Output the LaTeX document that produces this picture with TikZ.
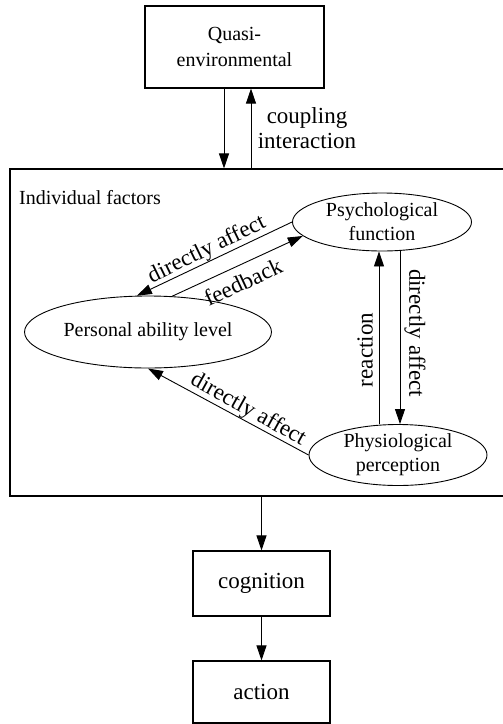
\documentclass[tikz,border=0pt]{standalone}
\usepackage{fontspec}
\setmainfont{Liberation Serif}
\usetikzlibrary{arrows.meta,shapes.geometric}
\begin{document}
\begin{tikzpicture}[x=1pt,y=-1pt,
  box/.style={draw,line width=1.1pt,rectangle,inner sep=0pt},
  ell/.style={draw,line width=0.9pt,ellipse,inner sep=0pt,align=center,font=\fontsize{20}{24}\selectfont},
  lab/.style={font=\fontsize{23}{25}\selectfont,inner sep=0pt,align=center},
  arr/.style={line width=0.9pt,-{Triangle[length=15pt,width=10pt]}}]
\useasboundingbox (0,0) rectangle (503,724);
\node[box,minimum width=179pt,minimum height=82pt,align=center,font=\fontsize{20}{26}\selectfont] (quasi) at (234.5,47) {Quasi-\\environmental};
\node[box,minimum width=494pt,minimum height=327pt] (indiv) at (257,332.5) {};
\node[font=\fontsize{20}{24}\selectfont,inner sep=0pt] (indlab) at (90,198) {Individual factors};
\node[ell,minimum width=179pt,minimum height=58pt] (psych) at (382,222) {Psychological\\function};
\node[ell,minimum width=247pt,minimum height=72pt] (pers) at (148,332) {Personal ability level};
\node[ell,minimum width=178pt,minimum height=61pt] (phys) at (398,455) {Physiological\\perception};
\node[box,minimum width=137pt,minimum height=65pt,font=\fontsize{23}{25}\selectfont] (cog) at (261.5,583.5) {cognition};
\node[box,minimum width=137pt,minimum height=62pt,font=\fontsize{23}{25}\selectfont] (act) at (261.5,692) {action};
% connectors
\draw[arr] ([xshift=-10.5pt]quasi.south) -- ([xshift=-10.5pt]quasi.south |- indiv.north);
\draw[arr] ([xshift=16.5pt]quasi.south |- indiv.north) -- ([xshift=16.5pt]quasi.south);
\draw[arr] (psych.west) -- (pers.107);
\draw[arr] (pers.56) -- (psych.190);
\draw[arr] ([xshift=-19pt]phys.north) -- ([xshift=-19pt]phys.north |- psych.south);
\draw[arr] ([xshift=18pt]psych.south) -- ([xshift=18pt]psych.south |- phys.north);
\draw[arr] (phys.west) -- (pers.south);
\draw[arr] (cog.north |- indiv.south) -- (cog.north);
\draw[arr] (cog.south) -- (act.north);
% labels
\node[lab] (lcoup) at (307,128) {coupling\\interaction};
\node[lab,rotate=26] (lda1) at (207,250) {directly affect};
\node[lab,rotate=25] (lfb) at (243,282) {feedback};
\node[lab,rotate=90] (lre) at (365,350) {reaction};
\node[lab,rotate=-90] (lda2) at (415,333) {directly affect};
\node[lab,rotate=-29] (lda3) at (248,410) {directly affect};
\end{tikzpicture}
\end{document}
